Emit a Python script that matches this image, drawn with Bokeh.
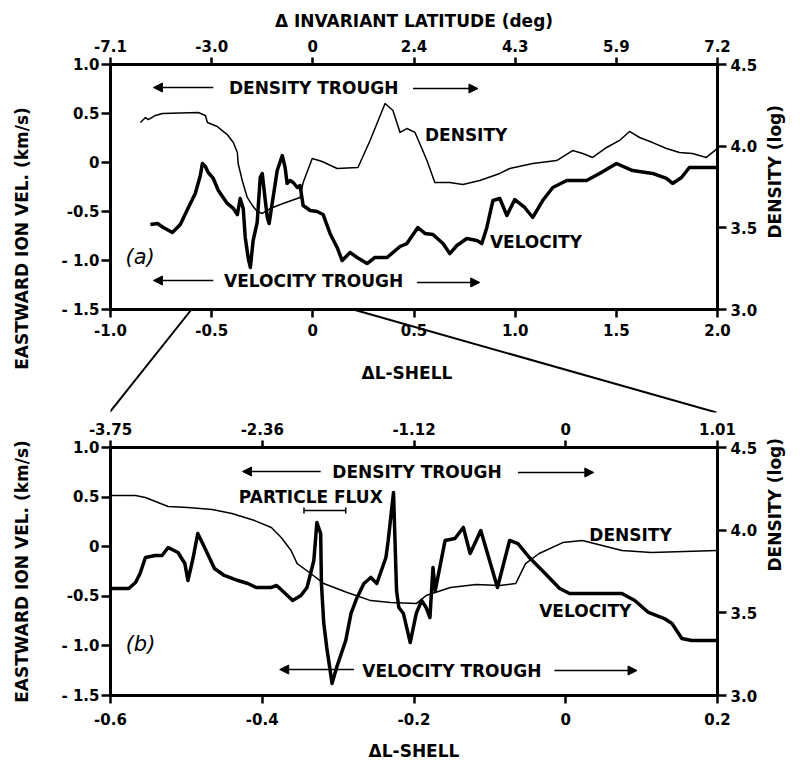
import math
from bokeh.plotting import figure
from bokeh.models import (Range1d, LinearAxis, FixedTicker, Label, Arrow, NormalHead, Span)
from bokeh.layouts import column
from bokeh.embed import file_html
from bokeh.resources import INLINE

# ---------------- data: panel (a) ----------------
a_vel_x = [-0.803, -0.768, -0.739, -0.694, -0.655, -0.615, -0.581, -0.556, -0.546, -0.531,
           -0.517, -0.492, -0.467, -0.423, -0.393, -0.373, -0.359, -0.344, -0.334, -0.319,
           -0.309, -0.295, -0.275, -0.260, -0.250, -0.235, -0.225, -0.216, -0.201, -0.176,
           -0.151, -0.137, -0.127, -0.112, -0.097, -0.077, -0.063, -0.048, -0.013, 0.021,
           0.051, 0.085, 0.120, 0.145, 0.184, 0.219, 0.268, 0.307, 0.367, 0.431,
           0.465, 0.519, 0.554, 0.594, 0.643, 0.677, 0.712, 0.761, 0.811, 0.835,
           0.860, 0.890, 0.924, 0.959, 0.998, 1.047, 1.087, 1.136, 1.186, 1.255,
           1.353, 1.417, 1.501, 1.580, 1.679, 1.748, 1.778, 1.822, 1.861, 1.995]
a_vel = [-0.633, -0.622, -0.663, -0.714, -0.633, -0.459, -0.316, -0.133, -0.010, -0.041,
         -0.102, -0.163, -0.286, -0.418, -0.469, -0.531, -0.367, -0.469, -0.765, -0.980,
         -1.071, -0.796, -0.612, -0.153, -0.112, -0.388, -0.561, -0.622, -0.418, -0.082,
         0.071, -0.051, -0.214, -0.184, -0.204, -0.255, -0.235, -0.439, -0.490, -0.500,
         -0.531, -0.724, -0.867, -1.000, -0.918, -0.969, -1.031, -0.969, -0.969, -0.857,
         -0.827, -0.663, -0.724, -0.735, -0.827, -0.929, -0.847, -0.776, -0.796, -0.827,
         -0.663, -0.388, -0.367, -0.541, -0.378, -0.459, -0.561, -0.388, -0.255, -0.184,
         -0.184, -0.112, -0.010, -0.082, -0.112, -0.163, -0.214, -0.153, -0.051, -0.051]

a_den_x = [-0.852, -0.827, -0.813, -0.778, -0.743, -0.566, -0.531, -0.521, -0.472, -0.423,
           -0.393, -0.373, -0.369, -0.349, -0.324, -0.299, -0.275, -0.250, -0.211, -0.147,
           -0.063, -0.048, -0.003, 0.046, 0.120, 0.223, 0.283, 0.357, 0.396, 0.431,
           0.465, 0.505, 0.539, 0.564, 0.603, 0.677, 0.742, 0.825, 0.924, 0.973,
           1.087, 1.205, 1.284, 1.334, 1.383, 1.452, 1.516, 1.565, 1.615, 1.679,
           1.748, 1.812, 1.876, 1.945, 2.000]
a_den = [4.145, 4.175, 4.163, 4.188, 4.200, 4.206, 4.188, 4.145, 4.120, 4.071,
         4.022, 3.961, 3.894, 3.790, 3.686, 3.637, 3.600, 3.588, 3.618, 3.649,
         3.686, 3.777, 3.924, 3.906, 3.863, 3.869, 4.035, 4.261, 4.218, 4.084,
         4.108, 4.084, 3.986, 3.912, 3.777, 3.777, 3.765, 3.790, 3.833, 3.863,
         3.894, 3.912, 3.973, 3.955, 3.931, 3.992, 4.035, 4.090, 4.053, 4.022,
         3.986, 3.961, 3.955, 3.931, 3.986]

# ---------------- data: panel (b) ----------------
b_vel_x = [-0.600, -0.576, -0.567, -0.561, -0.554, -0.541, -0.532, -0.524, -0.511, -0.502,
           -0.498, -0.491, -0.485, -0.476, -0.463, -0.450, -0.432, -0.419, -0.408, -0.388,
           -0.381, -0.371, -0.360, -0.349, -0.341, -0.332, -0.328, -0.323, -0.322, -0.319,
           -0.315, -0.308, -0.302, -0.290, -0.283, -0.275, -0.266, -0.257, -0.249, -0.237,
           -0.234, -0.227, -0.223, -0.220, -0.214, -0.205, -0.197, -0.190, -0.184, -0.179,
           -0.175, -0.172, -0.159, -0.146, -0.135, -0.126, -0.112, -0.090, -0.074, -0.063,
           -0.048, -0.031, -0.008, 0.005, 0.048, 0.074, 0.091, 0.109, 0.130, 0.140,
           0.153, 0.166, 0.200]
b_vel = [-0.421, -0.421, -0.361, -0.270, -0.109, -0.089, -0.089, -0.008, -0.058, -0.169,
         -0.341, -0.109, 0.133, -0.008, -0.220, -0.290, -0.341, -0.371, -0.411, -0.411,
         -0.391, -0.462, -0.542, -0.492, -0.411, -0.139, 0.244, 0.133, -0.371, -0.764,
         -1.016, -1.379, -1.218, -0.946, -0.673, -0.512, -0.371, -0.310, -0.371, -0.109,
         0.063, 0.546, -0.442, -0.613, -0.673, -0.966, -0.673, -0.542, -0.613, -0.714,
         -0.210, -0.442, 0.063, 0.083, 0.194, -0.069, 0.163, -0.411, 0.063, 0.032,
         -0.109, -0.240, -0.421, -0.472, -0.472, -0.472, -0.542, -0.663, -0.724, -0.774,
         -0.925, -0.946, -0.946]

b_den_x = [-0.600, -0.567, -0.554, -0.524, -0.498, -0.466, -0.440, -0.410, -0.388, -0.375,
           -0.362, -0.354, -0.336, -0.319, -0.288, -0.257, -0.231, -0.197, -0.184, -0.152,
           -0.118, -0.087, -0.066, -0.053, -0.035, -0.004, 0.022, 0.074, 0.113, 0.200]
b_den = [4.210, 4.210, 4.198, 4.143, 4.137, 4.125, 4.101, 4.058, 4.016, 3.956,
         3.877, 3.798, 3.738, 3.677, 3.623, 3.574, 3.562, 3.556, 3.605, 3.653,
         3.671, 3.665, 3.677, 3.798, 3.859, 3.925, 3.937, 3.877, 3.865, 3.877]

# ---------------- ticks ----------------
a_xticks = [-1.0, -0.5, 0.0, 0.5, 1.0, 1.5, 2.0]
a_xtick_labels = ["-1.0", "-0.5", "0", "0.5", "1.0", "1.5", "2.0"]
a_lat_labels = ["-7.1", "-3.0", "0", "2.4", "4.3", "5.9", "7.2"]
b_xticks = [-0.6, -0.4, -0.2, 0.0, 0.2]
b_xtick_labels = ["-0.6", "-0.4", "-0.2", "0", "0.2"]
b_lat_labels = ["-3.75", "-2.36", "-1.12", "0", "1.01"]
vel_ticks = [-1.5, -1.0, -0.5, 0.0, 0.5, 1.0]
vel_tick_labels = ["- 1.5", "- 1.0", "-0.5", "0", "0.5", "1.0"]
den_ticks = [3.0, 3.5, 4.0, 4.5]
den_tick_labels = ["3.0", "3.5", "4.0", "4.5"]

FONT = "DejaVu Sans"
VEL_RANGE = (-1.5, 1.0)
DEN_RANGE = (3.0, 4.5)


def style_axis(ax, tick_out, standoff, label_standoff=10):
    ax.axis_line_width = 3
    ax.axis_line_color = "black"
    ax.major_tick_line_width = 2.5
    ax.major_tick_line_color = "black"
    ax.major_tick_in = 0
    ax.major_tick_out = tick_out
    ax.minor_tick_line_color = None
    ax.minor_tick_out = 0
    ax.major_label_text_font = FONT
    ax.major_label_text_font_size = "15px"
    ax.major_label_text_font_style = "bold"
    ax.major_label_text_color = "black"
    ax.major_label_standoff = standoff
    ax.axis_label_text_font = FONT
    ax.axis_label_text_font_size = "17px"
    ax.axis_label_text_font_style = "bold"
    ax.axis_label_text_color = "black"
    ax.axis_label_standoff = label_standoff


def txt(p, x, y, s, align="center", size="17px", style="bold"):
    p.add_layout(Label(x=x, y=y, text=s, text_font=FONT, text_font_size=size,
                       text_font_style=style, text_color="black", text_align=align,
                       text_baseline="middle"))


def arrow(p, x0, x1, y):
    p.add_layout(Arrow(end=NormalHead(size=9, fill_color="black", line_color="black", line_width=1),
                       x_start=x0, y_start=y, x_end=x1, y_end=y,
                       line_color="black", line_width=1.5))


def make_panel(h, xr, yr, dr, borders, xticks, toplabels, top_title):
    p = figure(width=800, height=h, x_range=Range1d(*xr), y_range=Range1d(*yr),
               x_axis_type=None, y_axis_type=None,
               output_backend="svg", toolbar_location=None,
               min_border_left=borders[0], min_border_right=borders[1],
               min_border_top=borders[2], min_border_bottom=borders[3])
    p.extra_y_ranges = {"den": Range1d(*dr)}
    p.outline_line_color = None
    p.background_fill_color = "white"
    p.border_fill_color = "white"

    top = LinearAxis(ticker=FixedTicker(ticks=xticks),
                     major_label_overrides=dict(zip(xticks, toplabels)),
                     axis_label=top_title)
    style_axis(top, 7, 6, 6)
    p.add_layout(top, "above")

    left = LinearAxis(ticker=FixedTicker(ticks=vel_ticks), bounds=VEL_RANGE,
                      major_label_overrides=dict(zip(vel_ticks, vel_tick_labels)),
                      axis_label="EASTWARD ION VEL. (km/s)")
    style_axis(left, 9, 2, 26)
    p.add_layout(left, "left")

    right = LinearAxis(y_range_name="den", ticker=FixedTicker(ticks=den_ticks), bounds=DEN_RANGE,
                       major_label_overrides=dict(zip(den_ticks, den_tick_labels)),
                       axis_label="DENSITY (log)")
    style_axis(right, 9, 4, 15)
    if "axis_label_orientation" in right.properties():
        right.axis_label_orientation = math.pi / 2
    p.add_layout(right, "right")
    return p


# ---------------- panel (a) ----------------
# frame extended below the panel so that the zoom connectors can be drawn
A_EXT = 103.0 / 98.0
p1 = make_panel(416, (-1.0, 2.0), (VEL_RANGE[0] - A_EXT, VEL_RANGE[1]),
                (DEN_RANGE[0] - A_EXT * 0.6, DEN_RANGE[1]),
                (110, 82, 64, 4), a_xticks, a_lat_labels,
                "Δ INVARIANT LATITUDE (deg)")
# bottom axis of panel (a): ticks and labels brought back up to the panel's lower edge
bot1 = LinearAxis(ticker=FixedTicker(ticks=a_xticks),
                  major_label_overrides=dict(zip(a_xticks, a_xtick_labels)))
style_axis(bot1, -95, -89)
bot1.major_tick_in = 103
bot1.axis_line_color = None
p1.add_layout(bot1, "below")
p1.add_layout(Span(location=VEL_RANGE[0], dimension="width", line_color="black",
                   line_width=3))
txt(p1, 0.465, -2.153, "ΔL-SHELL")

p1.line(a_den_x, a_den, y_range_name="den", line_color="black", line_width=1.5,
        line_join="round")
p1.line(a_vel_x, a_vel, line_color="black", line_width=3.5, line_join="round")

txt(p1, 0.004, 0.765, "DENSITY TROUGH")
arrow(p1, -0.492, -0.788, 0.765)
arrow(p1, 0.495, 0.816, 0.755)
txt(p1, 0.004, -1.214, "VELOCITY TROUGH")
arrow(p1, -0.492, -0.788, -1.204)
arrow(p1, 0.515, 0.825, -1.224)
txt(p1, 0.554, 0.276, "DENSITY", align="left")
txt(p1, 0.875, -0.816, "VELOCITY", align="left")
txt(p1, -0.926, -0.969, "(a)", align="left", size="21px", style="italic")
# zoom connectors from panel (a) down to panel (b)
p1.add_layout(Arrow(end=None, x_start=-0.6, y_start=-1.5, x_end=-1.005, y_end=-2.551,
                    line_color="black", line_width=2))
p1.add_layout(Arrow(end=None, x_start=0.2, y_start=-1.5, x_end=1.995, y_end=-2.551,
                    line_color="black", line_width=2))

# ---------------- panel (b) ----------------
p2 = make_panel(349, (-0.6, 0.2), VEL_RANGE, DEN_RANGE, (105, 83, 31, 70),
                b_xticks, b_lat_labels, "")
bot2 = LinearAxis(ticker=FixedTicker(ticks=b_xticks),
                  major_label_overrides=dict(zip(b_xticks, b_xtick_labels)),
                  axis_label="ΔL-SHELL")
style_axis(bot2, 8, 9, 13)
p2.add_layout(bot2, "below")

p2.line(b_den_x, b_den, y_range_name="den", line_color="black", line_width=1.5,
        line_join="round")
p2.line(b_vel_x, b_vel, line_color="black", line_width=3.5, line_join="round")

txt(p2, -0.196, 0.758, "DENSITY TROUGH")
arrow(p2, -0.323, -0.426, 0.758)
arrow(p2, -0.063, 0.037, 0.748)
txt(p2, -0.336, 0.496, "PARTICLE FLUX")
p2.multi_line([[-0.345, -0.290], [-0.345, -0.345], [-0.290, -0.290]],
              [[0.365, 0.365], [0.335, 0.395], [0.335, 0.395]],
              line_color="black", line_width=1.5)
txt(p2, 0.031, 0.113, "DENSITY", align="left")
txt(p2, -0.035, -0.653, "VELOCITY", align="left")
txt(p2, -0.150, -1.248, "VELOCITY TROUGH")
arrow(p2, -0.279, -0.377, -1.238)
arrow(p2, -0.015, 0.094, -1.248)
txt(p2, -0.580, -0.976, "(b)", align="left", size="21px", style="italic")

layout = column(p1, p2)
open("out.html", "w").write(file_html(layout, INLINE))
